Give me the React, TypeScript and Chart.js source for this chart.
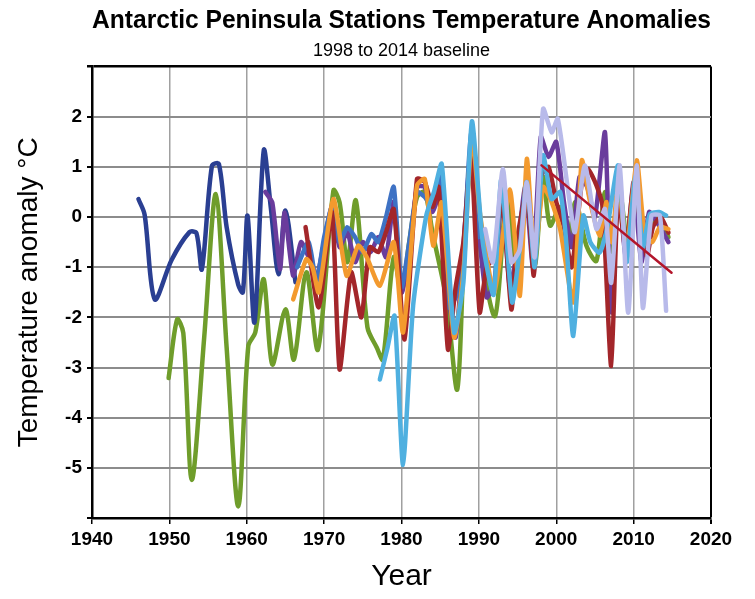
import React, { useEffect, useRef } from 'react';
import { Chart, registerables } from 'chart.js';

Chart.register(...registerables);

const TITLE = 'Antarctic Peninsula Stations Temperature Anomalies';
const SUBTITLE = '1998 to 2014 baseline';
const Y_TITLE = 'Temperature anomaly °C';
const X_TITLE = 'Year';

const xTickMin = 1940;
const xTickMax = 2020;
const yTickMin = -6;
const yTickMax = 3;

const navyYears = [1946, 1946.8, 1948.1, 1950.3, 1952.6, 1953.5, 1954.2, 1955.5, 1956.4, 1957.4, 1958.9, 1959.5, 1960.1, 1961.0, 1962.2, 1963.1, 1964.1, 1965.0, 1966.3];
const navyValues = [0.36, 0.05, -1.64, -0.85, -0.3, -0.32, -1.04, 1.02, 1.06, -0.2, -1.35, -1.5, 0.03, -2.1, 1.33, 0.2, -1.14, 0.13, -1.3];

const greenYears = [1949.9, 1951.0, 1951.8, 1952.9, 1954.5, 1956.0, 1957.4, 1958.9, 1960.2, 1961.1, 1962.2, 1963.3, 1965.0, 1966.1, 1967.7, 1969.2, 1971.2, 1972.0, 1973.0, 1974.1, 1975.6, 1976.8, 1977.6, 1979.0, 1980.0, 1981.0, 1982.0, 1983.0, 1984.0, 1985.8, 1987.2, 1988.0, 1989.1, 1990.2, 1992.1, 1993.6, 1995.0, 1996.2, 1997.2, 1998.3, 1999.2, 2000.5, 2001.5, 2002.5, 2003.9, 2005.2, 2006.3, 2007.3, 2008.2, 2009.3, 2010.4, 2011.4, 2012.3, 2013.4, 2014.5];
const greenValues = [-3.21, -2.04, -2.31, -5.24, -2.4, 0.46, -2.6, -5.77, -2.57, -2.3, -1.24, -2.94, -1.84, -2.84, -1.1, -2.64, 0.53, 0.29, -0.9, 0.33, -2.2, -2.6, -2.84, -0.8, -1.5, -0.5, 0.4, 0.5, -0.3, -1.64, -3.44, -1.0, 1.5, -0.6, -1.97, 0.4, -1.2, 0.6, -1.0, 0.8, -0.17, 0.2, -0.5, 0.3, -0.57, -0.87, 0.5, -0.7, 0.5, -0.6, 0.4, -0.6, -0.1, 0.0, -0.4];

const purpleYears = [1962.4, 1963.3, 1964.3, 1964.9, 1966.0, 1967, 1968, 1969, 1970, 1971, 1972, 1973, 1974, 1975, 1976, 1977, 1978, 1979, 1980, 1981, 1982, 1983, 1984, 1985, 1986, 1987, 1988, 1989, 1990, 1991, 1992, 1993, 1994, 1995, 1996, 1997, 1998, 1999, 2000, 2001, 2002, 2003, 2004, 2005, 2006.3, 2007.1, 2008, 2009, 2010, 2011, 2012, 2013, 2014.5];
const purpleValues = [0.5, 0.29, -1.04, 0.09, -1.17, -0.5, -0.8, -1.2, -0.5, 0.2, -0.6, -0.3, -0.9, -0.5, -0.7, -0.4, -0.8, 0.3, -1.5, -0.8, 0.6, 0.6, 0.1, 0.5, -1.5, -2.4, -0.6, 1.4, -0.3, -1.6, -1.3, 0.5, -1.4, -0.6, 0.6, -1.0, 1.6, 1.2, 1.5, 0.3, -0.6, 0.8, 0.6, 0.0, 1.69, -1.9, 0.6, -0.8, 0.7, -0.9, 0.1, -0.1, -0.5];

const royalYears = [1966.5, 1968, 1969, 1970, 1971.2, 1972, 1973, 1974, 1975, 1976.1, 1977, 1978, 1979, 1980, 1981, 1982, 1983, 1984, 1985, 1986, 1987, 1988, 1989, 1990];
const royalValues = [-1.0, -0.5, -1.3, -0.4, 0.29, -0.5, -0.2, -0.4, -0.7, -0.34, -0.5, 0.0, 0.6, -1.4, -0.5, 0.5, 0.4, 0.2, 0.9, -1.8, -1.6, -0.7, 1.7, -0.4];

const redYears = [1967.6, 1969.3, 1971.0, 1972.0, 1973.5, 1974.8, 1975.9, 1977, 1978, 1979, 1980.4, 1982, 1983, 1984, 1984.8, 1986, 1987, 1988, 1989, 1990.1, 1991, 1992, 1993, 1994.2, 1995, 1996.2, 1997.1, 1998, 1999, 2000, 2001, 2002, 2003.4, 2004.1, 2005.2, 2006, 2007.1, 2008, 2009, 2010, 2011.7, 2012.5, 2013.5, 2014.5];
const redValues = [-0.2, -1.8, 0.1, -3.04, -1.1, -2.0, -0.6, -0.7, -0.3, 0.16, -2.44, 0.76, 0.7, 0.2, 0.6, -2.64, -1.4, -0.5, 1.2, -1.9, -1.0, -0.8, 0.4, -1.84, -0.4, 0.5, -1.17, 0.8, 1.0, 0.3, -0.2, -1.0, 0.8, 0.96, 0.63, 0.2, -2.97, 0.5, -0.7, 0.6, -0.77, -0.2, 0.0, -0.31];

const orangeYears = [1966.0, 1967.7, 1968.5, 1969.3, 1971.2, 1972.9, 1974.4, 1975.5, 1977.2, 1979.0, 1980.2, 1982.0, 1983.0, 1984.1, 1985.2, 1986.8, 1988.0, 1989.1, 1990.2, 1992.0, 1994.0, 1995.3, 1996.2, 1997.2, 1998.3, 1999.4, 2000.5, 2002.2, 2003.3, 2004.3, 2005.6, 2006.5, 2007.2, 2008.0, 2009.1, 2010.4, 2011.4, 2012.4, 2013.4, 2014.5];
const orangeValues = [-1.64, -0.84, -1.0, -1.5, 0.36, -1.17, -0.57, -0.8, -1.37, -0.5, -2.3, 0.63, 0.76, -0.57, 0.29, -2.4, -1.1, 1.63, 0.0, -1.5, 0.55, -1.57, 1.16, -0.8, 0.6, 0.3, -0.24, -1.7, 1.13, 0.36, -0.37, 0.3, -0.5, 0.69, -0.64, 1.13, -0.31, -0.5, -0.2, -0.24];

const cyanYears = [1977.2, 1978.2, 1979.1, 1980.2, 1981.5, 1983.2, 1984.2, 1985.2, 1986.8, 1988.0, 1989.1, 1990.5, 1991.9, 1992.9, 1994.3, 1995.3, 1996.2, 1997.2, 1998.3, 1999.4, 2000.5, 2001.3, 2002.2, 2003.5, 2004.4, 2005.6, 2006.6, 2008.0, 2009.1, 2010.2, 2011.2, 2012.1, 2013.3, 2014.2];
const cyanValues = [-3.24, -2.6, -1.97, -4.94, -1.77, 0.03, 0.5, 1.06, -2.3, -1.3, 1.91, -0.5, -1.55, 0.75, -1.7, -0.6, 0.7, -1.0, 1.23, 0.36, 0.5, -0.5, -2.37, 0.03, -0.5, -0.71, -0.2, 1.03, -0.9, 0.8, -0.6, 0.06, 0.1, 0.03];

const lavenderYears = [1990.8, 1991.8, 1993.1, 1994.2, 1995.3, 1996.2, 1997.2, 1998.3, 1999.4, 2000.2, 2001.5, 2002.4, 2003.7, 2005.2, 2006.3, 2007.1, 2008.2, 2009.3, 2010.4, 2011.2, 2012.3, 2013.4, 2014.2];
const lavenderValues = [-0.24, -0.9, 0.96, -0.9, -0.64, 0.69, -0.8, 2.16, 1.69, 1.96, 0.56, -0.3, 1.03, -0.24, 0.16, -1.31, 1.03, -1.91, 1.03, -1.81, 0.03, 0.03, -1.87];

const trendYears = [1998.1, 2014.9];
const trendValues = [1.03, -1.11];

const pts = (xs: number[], ys: number[]) => xs.map((x, i) => ({ x, y: ys[i] }));

const FONT = 'Liberation Sans, Arial, sans-serif';

export default function App() {
  const ref = useRef<HTMLCanvasElement | null>(null);

  useEffect(() => {
    if (!ref.current) return;
    const line = (data: any, color: string, width = 4.5, tension = 0.2) => ({
      data,
      borderColor: color,
      backgroundColor: color,
      borderWidth: width,
      pointRadius: 0,
      tension,
      borderJoinStyle: 'round',
      borderCapStyle: 'round',
      fill: false,
    });
    const chart = new Chart(ref.current, {
      type: 'line',
      data: {
        datasets: [
          line(pts(trendYears, trendValues), '#B3152B', 2.5, 0),
          line(pts(lavenderYears, lavenderValues), '#B8BAEA'),
          line(pts(cyanYears, cyanValues), '#4FB0E0'),
          line(pts(orangeYears, orangeValues), '#F39A2E'),
          line(pts(redYears, redValues), '#A3262A'),
          line(pts(royalYears, royalValues), '#3E72C4'),
          line(pts(purpleYears, purpleValues), '#6A3C9C'),
          line(pts(navyYears, navyValues), '#2A3F92', 4.5, 0.3),
          line(pts(greenYears, greenValues), '#6F9D2B', 4.5, 0.3),
        ] as any,
      },
      options: {
        animation: false,
        responsive: false,
        maintainAspectRatio: false,
        devicePixelRatio: 1,
        layout: { padding: { left: 0, right: 44, top: 0, bottom: 0 } },
        plugins: {
          legend: { display: false },
          tooltip: { enabled: false },
          title: {
            display: true,
            text: TITLE,
            fullSize: false,
            color: '#000',
            font: { family: FONT, size: 25, weight: 'bold' },
            padding: { top: 6, bottom: 0 },
          },
          subtitle: {
            display: true,
            text: SUBTITLE,
            fullSize: false,
            color: '#000',
            font: { family: FONT, size: 18, weight: 'normal' },
            padding: { top: 4, bottom: 5 },
          },
        },
        scales: {
          x: {
            type: 'linear',
            min: xTickMin,
            max: xTickMax,
            afterFit: (s: any) => { s.height = 81; },
            ticks: {
              stepSize: 10,
              padding: 4,
              color: '#000',
              font: { family: FONT, size: 19, weight: 'bold' },
              callback: (v: any) => String(v),
              maxRotation: 0,
            },
            grid: {
              color: (c: any) => (c.tick && c.tick.value === xTickMax ? '#000' : '#A0A0A0'),
              lineWidth: (c: any) => (c.tick && c.tick.value === xTickMax ? 2 : 1.5),
              tickLength: 6,
              tickColor: '#000',
            },
            border: { color: '#000', width: 2.5 },
            title: {
              display: true,
              text: X_TITLE,
              color: '#000',
              font: { family: FONT, size: 30, weight: 'normal' },
              padding: { top: 0, bottom: 4 },
            },
          },
          y: {
            type: 'linear',
            min: yTickMin,
            max: yTickMax,
            afterFit: (s: any) => { s.width = 92; },
            ticks: {
              stepSize: 1,
              padding: 5,
              color: '#000',
              font: { family: FONT, size: 19, weight: 'bold' },
              callback: (v: any) => (v === yTickMin || v === yTickMax ? '' : String(v)),
            },
            grid: {
              color: (c: any) => (c.tick && c.tick.value === yTickMax ? '#000' : '#8C8C8C'),
              lineWidth: (c: any) => (c.tick && c.tick.value === yTickMax ? 2.5 : 2),
              tickLength: 5,
              tickColor: '#000',
            },
            border: { color: '#000', width: 2.5 },
            title: {
              display: true,
              text: Y_TITLE,
              color: '#000',
              font: { family: FONT, size: 28, weight: 'normal' },
              padding: { top: 12, bottom: 0 },
            },
          },
        },
      } as any,
    });
    return () => chart.destroy();
  }, []);

  return (
    <div style={{ position: 'absolute', left: 0, top: 0, width: 755, height: 599, background: '#fff' }}>
      <canvas ref={ref} width={755} height={599} style={{ width: 755, height: 599, display: 'block' }} />
    </div>
  );
}
